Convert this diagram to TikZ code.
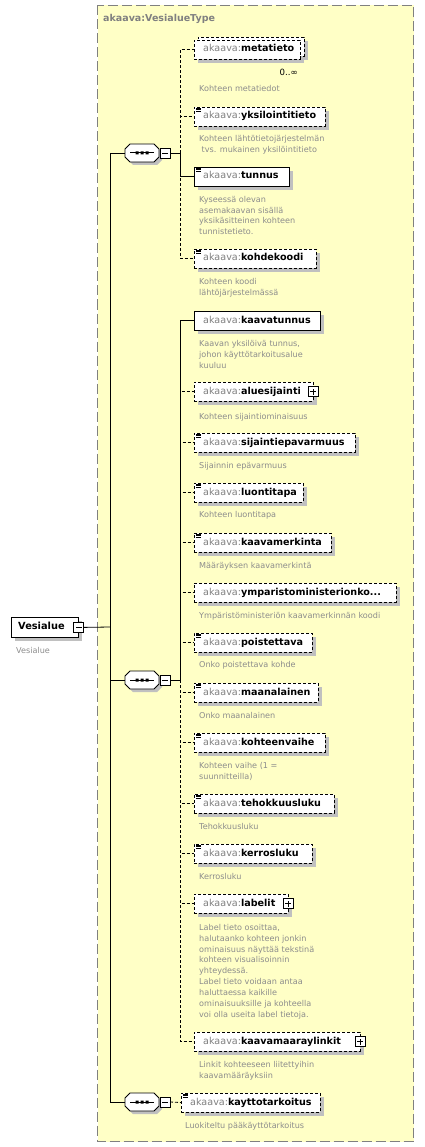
\documentclass[tikz,border=0pt]{standalone}
\usepackage{fontspec}
\setmainfont{DejaVu Sans}
\definecolor{cyel}{HTML}{FFFFC6}
\definecolor{cshadow}{HTML}{C0C0C0}
\definecolor{cgray}{HTML}{808080}
\definecolor{cdesc}{HTML}{8C8C8C}
\tikzset{
  ebox/.style={rectangle, draw=black, fill=white, inner sep=0pt, outer sep=0pt, minimum height=19pt, anchor=north west, line width=0.8pt},
  opt/.style={dash pattern=on 3pt off 2pt},
  req/.style={solid},
  etext/.style={anchor=west, inner sep=0pt, font=\fontsize{9.6}{11}\selectfont, text height=7pt, text depth=2pt},
  desc/.style={anchor=north west, inner sep=0pt, align=left, font=\fontsize{8.1}{10.9}\selectfont, text=cdesc},
  dline/.style={line width=0.8pt, dash pattern=on 3pt off 2pt},
  sline/.style={line width=0.8pt},
  minusb/.style={rectangle, draw=black, fill=white, minimum size=10pt, inner sep=0pt, outer sep=0pt, line width=0.8pt,
    path picture={\draw[line width=0.8pt] ([xshift=-3pt]path picture bounding box.center) -- ([xshift=3pt]path picture bounding box.center);}},
  plusb/.style={rectangle, draw=black, fill=white, minimum size=10pt, inner sep=0pt, outer sep=0pt, line width=0.8pt,
    path picture={\draw[line width=0.8pt] ([xshift=-3pt]path picture bounding box.center) -- ([xshift=3pt]path picture bounding box.center)
      ([yshift=-3pt]path picture bounding box.center) -- ([yshift=3pt]path picture bounding box.center);}},
  seqsym/.pic={
    \fill[cshadow] (-9,-6) -- (15,-6) -- (20,-1) -- (20,7) -- (15,12) -- (-9,12) -- (-14,7) -- (-14,-1) -- cycle;
    \draw[fill=white, line width=0.8pt] (-12,-9) -- (12,-9) -- (17,-4) -- (17,4) -- (12,9) -- (-12,9) -- (-17,4) -- (-17,-4) -- cycle;
    \draw[line width=1pt] (-12,0) -- (12,0);
    \fill (-6.5,-1.5) rectangle ++(3,3) (-1.5,-1.5) rectangle ++(3,3) (3.5,-1.5) rectangle ++(3,3);
    \coordinate (-w) at (-17,0);
    \node[minusb] (-m) at (23,0) {};
    \coordinate (-e) at (38,0);
  }
}
\newcommand\xel[6]{%
  \fill[cshadow] (#2+4,#3+4) rectangle (#2+#4+4,#3+23);
  \node[ebox,#5,minimum width=#4pt] (#1) at (#2,#3) {};
  \node[etext] (#1t) at ([xshift=9pt]#1.west) {\textcolor{cgray}{akaava:}\textbf{#6}};
}
\newcommand\eicon[1]{\draw[line width=0.6pt]
  ([xshift=2pt,yshift=-1pt]#1.north west) -- +(5pt,0pt)
  ([xshift=2pt,yshift=-2.7pt]#1.north west) -- +(5pt,0pt)
  ([xshift=2pt,yshift=-4.4pt]#1.north west) -- +(5pt,0pt);}
% description: name, x, baseline of first line, text
\newcommand\xdesc[4]{\node[desc] (#1) at (#2,#3-7.5) {\rule{0pt}{7.5pt}#4};}
\begin{document}
\begin{tikzpicture}[x=1pt,y=-1pt]
\useasboundingbox (0,0) rectangle (424,1147);
% outer complex type box
\draw[cgray, fill=cyel, dash pattern=on 10pt off 4pt, line width=1pt] (97.5,5.5) rectangle (413.5,1141.5);
\node[anchor=west, inner sep=0pt, font=\bfseries\fontsize{9.5}{11}\selectfont, text=cgray] (title) at (103,19) {akaava:VesialueType};

% root element
\fill[cshadow] (15,621) rectangle (82,641);
\node[rectangle, draw=black, fill=white, line width=0.8pt, anchor=north west, minimum width=67pt, minimum height=20pt, inner sep=0pt] (root) at (11,617) {};
\node[anchor=west, inner sep=0pt, font=\bfseries\fontsize{9.8}{11}\selectfont, text height=7pt, text depth=2pt] (roott) at ([xshift=7pt]root.west) {Vesialue};
\node[minusb] (rootm) at (root.east) {};
\xdesc{rootd}{16}{653}{Vesialue}

% backbone
\coordinate (bv) at (110,627);
\coordinate (bb1) at (110,153);
\coordinate (bb2) at (110,680);
\coordinate (bb3) at (110,1102);
\draw[sline] (rootm.east) -- (bv);
\draw[sline] (bb1) -- (bb3);

% sequences
\pic (s1) at (142,153) {seqsym};
\pic (s2) at (142,680) {seqsym};
\pic (s3) at (142,1102) {seqsym};
\draw[sline] (bb1) -- (s1-w);
\draw[sline] (bb2) -- (s2-w);
\draw[sline] (bb3) -- (s3-w);

% ---- sequence 1 children
% metatieto (multiple)
\fill[cshadow] (202,41) rectangle (308,60);
\fill[cshadow] (198,44) rectangle (304,63);
\node[ebox,opt,minimum width=106pt] (e1b) at (198,37) {};
\node[ebox,opt,minimum width=106pt] (e1) at (194,40) {};
\node[etext] (e1t) at ([xshift=9pt]e1.west) {\textcolor{cgray}{akaava:}\textbf{metatieto}};
\node[anchor=east, inner sep=0pt, font=\fontsize{8.6}{10}\selectfont] (e1m) at (298,72) {0..∞};
\xdesc{d1}{199}{91}{Kohteen metatiedot}

\xel{e2}{194}{107}{131}{opt}{yksilointitieto}\eicon{e2}
\xdesc{d2}{199}{141}{Kohteen lähtötietojärjestelmän\\\hspace*{2.5pt}tvs. mukainen yksilöintitieto}

\xel{e3}{194}{167}{95}{req}{tunnus}\eicon{e3}
\xdesc{d3}{199}{202}{Kyseessä olevan\\asemakaavan sisällä\\yksikäsitteinen kohteen\\tunnistetieto.}

\xel{e4}{194}{249}{122}{opt}{kohdekoodi}\eicon{e4}
\xdesc{d4}{199}{284}{Kohteen koodi\\lähtöjärjestelmässä}

\draw[sline] (s1-m.east) -- (s1-e);
\draw[dline] (s1-e) |- (e1.west);
\draw[dline] (s1-e) |- (e2.west);
\draw[dline] (s1-e) |- (e4.west);
\draw[sline] (s1-e) |- (e3.west);

% ---- sequence 2 children
\xel{e5}{194}{311}{126}{req}{kaavatunnus}
\xdesc{d5}{199}{346}{Kaavan yksilöivä tunnus,\\johon käyttötarkoitusalue\\kuuluu}

\xel{e6}{194}{382}{119}{opt}{aluesijainti}
\node[plusb] (e6p) at (e6.east) {};
\xdesc{d6}{199}{419}{Kohteen sijaintiominaisuus}

\xel{e7}{194}{433}{161}{opt}{sijaintiepavarmuus}\eicon{e7}
\xdesc{d7}{199}{468}{Sijainnin epävarmuus}

\xel{e8}{194}{483}{109}{opt}{luontitapa}\eicon{e8}
\xdesc{d8}{199}{517}{Kohteen luontitapa}

\xel{e9}{194}{533}{137}{opt}{kaavamerkinta}\eicon{e9}
\xdesc{d9}{199}{568}{Määräyksen kaavamerkintä}

\xel{e10}{194}{583}{202}{opt}{ymparistoministerionko...}
\xdesc{d10}{199}{618}{Ympäristöministeriön kaavamerkinnän koodi}

\xel{e11}{194}{633}{118}{opt}{poistettava}\eicon{e11}
\xdesc{d11}{199}{667}{Onko poistettava kohde}

\xel{e12}{194}{683}{124}{opt}{maanalainen}\eicon{e12}
\xdesc{d12}{199}{718}{Onko maanalainen}

\xel{e13}{194}{733}{131}{opt}{kohteenvaihe}\eicon{e13}
\xdesc{d13}{199}{768}{Kohteen vaihe (1 =\\suunnitteilla)}

\xel{e14}{194}{794}{140}{opt}{tehokkuusluku}\eicon{e14}
\xdesc{d14}{199}{829}{Tehokkuusluku}

\xel{e15}{194}{844}{118}{opt}{kerrosluku}\eicon{e15}
\xdesc{d15}{199}{879}{Kerrosluku}

\xel{e16}{194}{894}{94}{opt}{labelit}
\node[plusb] (e16p) at (e16.east) {};
\xdesc{d16}{199}{930}{Label tieto osoittaa,\\halutaanko kohteen jonkin\\ominaisuus näyttää tekstinä\\kohteen visualisoinnin\\yhteydessä.\\Label tieto voidaan antaa\\haluttaessa kaikille\\ominaisuuksille ja kohteella\\voi olla useita label tietoja.}

\xel{e17}{194}{1032}{166}{opt}{kaavamaaraylinkit}
\node[plusb] (e17p) at (e17.east) {};
\xdesc{d17}{199}{1067}{Linkit kohteeseen liitettyihin\\kaavamääräyksiin}

\draw[sline] (s2-m.east) -- (s2-e);
\foreach \n in {e6,e7,e8,e9,e10,e11,e12,e13,e14,e15,e16,e17} {\draw[dline] (s2-e) |- (\n.west);}
\draw[sline] (s2-e) |- (e5.west);

% ---- sequence 3 child
\xel{e18}{181}{1093}{139}{opt}{kayttotarkoitus}\eicon{e18}
\xdesc{d18}{185}{1128}{Luokiteltu pääkäyttötarkoitus}
\draw[dline] (s3-m.east) -- (e18.west);
\end{tikzpicture}
\end{document}
